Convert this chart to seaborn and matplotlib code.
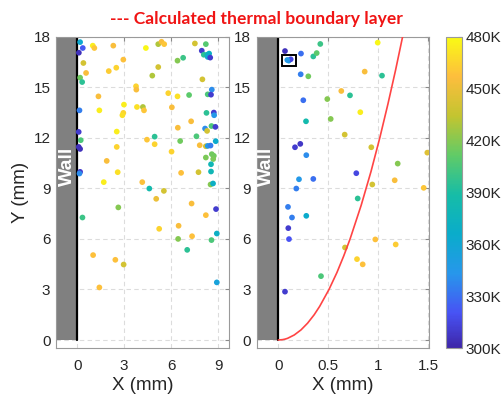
import numpy as np
import pandas as pd
import matplotlib
matplotlib.use("Agg")
import matplotlib.pyplot as plt
from matplotlib.colors import LinearSegmentedColormap, Normalize
from matplotlib.patches import Rectangle
import seaborn as sns

# ---- data ----
# left panel (wide view), X in mm, Y in mm, temperature in K
left_x = [0.19, 0.36, 0.11, 0.40, 0.57, 0.19, 0.32, 0.15, 0.10, 0.23, 0.10, 0.19, 0.19, 0.15,
          1.00, 1.10, 2.31, 2.95, 2.50, 2.02, 1.36, 1.42, 2.99, 2.95, 2.89, 2.53, 2.53, 1.89,
          2.59, 1.70, 4.39, 5.18, 5.39, 5.56, 5.18, 4.80, 3.76, 3.78, 3.82, 4.20, 4.27, 4.46,
          4.95, 4.95, 4.16, 4.61, 5.54, 6.03, 5.82, 6.05, 6.41, 6.41, 6.77, 7.15, 6.43, 6.58,
          7.28, 6.64, 7.52, 8.22, 7.96, 8.09, 8.30, 8.43, 8.34, 8.50, 8.00, 8.60, 8.34, 8.55,
          8.26, 8.73, 8.75, 8.17, 8.30, 8.58, 8.83, 7.62, 7.83, 8.22, 8.34, 8.52, 8.85, 8.60,
          8.73, 8.22, 8.69, 8.55, 8.55, 7.75, 8.52, 8.68, 0.34, 2.63, 5.05, 7.31, 8.87, 8.22,
          5.24, 6.48, 7.34, 6.45, 8.92, 8.58, 7.03, 1.02, 2.44, 2.97, 1.42, 8.92]
left_y = [17.68, 17.33, 17.05, 16.44, 15.85, 15.57, 15.31, 13.63, 12.35, 11.86, 11.46, 11.34, 9.98, 9.88,
          17.47, 17.33, 17.47, 16.64, 16.16, 15.96, 14.46, 13.63, 13.97, 13.48, 13.34, 12.37, 11.46, 10.63,
          9.96, 9.37, 17.33, 17.56, 17.70, 17.56, 16.20, 15.69, 15.06, 14.86, 13.83, 13.83, 13.63, 11.89,
          12.07, 11.62, 9.37, 8.99, 8.85, 11.18, 14.65, 13.81, 14.46, 16.58, 16.75, 14.54, 12.60, 11.81,
          12.98, 9.92, 17.60, 17.56, 17.17, 16.93, 16.93, 17.00, 16.80, 16.76, 15.47, 14.86, 14.58, 14.56,
          13.48, 13.50, 13.34, 12.55, 12.41, 12.70, 12.65, 12.09, 11.56, 11.50, 11.52, 11.54, 11.80, 11.03,
          10.93, 10.83, 10.74, 10.43, 10.00, 9.96, 9.23, 9.29, 7.27, 7.87, 8.38, 8.10, 7.77, 7.41,
          6.60, 6.78, 6.16, 6.00, 6.32, 5.93, 5.35, 5.04, 4.76, 4.48, 3.12, 3.42]
left_T = [362, 322, 305, 440, 455, 415, 395, 335, 310, 405, 305, 305, 310, 340,
          475, 460, 455, 458, 465, 462, 455, 475, 475, 465, 470, 475, 465, 455,
          470, 475, 478, 430, 455, 460, 440, 430, 465, 455, 470, 430, 460, 460,
          395, 465, 458, 385, 440, 465, 465, 455, 470, 420, 400, 410, 455, 415,
          455, 458, 440, 408, 310, 395, 385, 370, 360, 310, 440, 340, 405, 310,
          395, 310, 345, 340, 440, 405, 310, 405, 455, 440, 345, 335, 365, 415,
          415, 418, 418, 380, 380, 440, 420, 370, 400, 420, 450, 455, 310, 458,
          465, 455, 458, 420, 370, 405, 395, 458, 458, 440, 458, 355]

# right panel (near-wall zoom)
right_x = [0.067, 0.227, 0.350, 0.384, 0.420, 0.104, 0.124, 0.090, 0.224, 0.300, 0.250, 0.490,
           0.630, 0.717, 0.277, 0.524, 0.820, 0.664, 0.167, 0.220, 0.280, 0.930, 1.490, 1.194,
           0.780, 0.994, 0.864, 1.037, 0.207, 0.350, 0.180, 0.940, 1.164, 1.454, 0.794, 0.097,
           0.137, 0.280, 0.100, 0.107, 0.667, 0.970, 1.174, 0.787, 0.844, 0.427, 0.067]
right_y = [17.15, 17.00, 16.83, 17.03, 17.57, 16.58, 16.66, 16.62, 15.77, 15.65, 14.23, 14.30,
           14.78, 14.52, 12.98, 13.12, 13.52, 12.19, 11.44, 11.64, 10.97, 11.44, 11.12, 10.47,
           9.90, 17.65, 15.93, 15.69, 9.54, 9.56, 8.99, 9.23, 9.48, 9.03, 8.40, 7.90,
           7.27, 7.37, 6.64, 5.99, 5.49, 5.97, 5.67, 4.80, 4.49, 3.79, 2.87]
right_T = [305, 330, 395, 410, 400, 350, 315, 345, 335, 415, 330, 420,
           455, 395, 385, 420, 475, 440, 310, 308, 340, 440, 445, 420,
           315, 478, 455, 395, 345, 330, 335, 440, 455, 460, 395, 335,
           335, 365, 310, 320, 440, 458, 462, 465, 458, 405, 310]

# calculated thermal boundary layer
bl_y = [0, 0.02, 0.05, 0.1, 0.3, 0.6, 1, 1.5, 2, 3, 4, 5, 6, 8, 10, 12, 14, 16, 18]
bl_x = [0, 0.041, 0.066, 0.093, 0.160, 0.227, 0.293, 0.359, 0.414, 0.507, 0.586, 0.655,
        0.718, 0.829, 0.927, 1.015, 1.096, 1.172, 1.243]

y_ticks = [0, 3, 6, 9, 12, 15, 18]
left_xticks = [0, 3, 6, 9]
right_xticks = [0, 0.5, 1, 1.5]
right_xticklabels = ["0", "0.5", "1", "1.5"]
cbar_ticks = [300, 330, 360, 390, 420, 450, 480]
cbar_labels = ["300K", "330K", "360K", "390K", "420K", "450K", "480K"]
wall_top = 18

# parula-like colormap
parula = LinearSegmentedColormap.from_list("parula", [
    (0.000, (0.2422, 0.1504, 0.6603)),
    (0.111, (0.2810, 0.3228, 0.9579)),
    (0.238, (0.1540, 0.5902, 0.9218)),
    (0.365, (0.0383, 0.6742, 0.7950)),
    (0.492, (0.0855, 0.7392, 0.6565)),
    (0.619, (0.3765, 0.7950, 0.4050)),
    (0.746, (0.7635, 0.7707, 0.1877)),
    (0.873, (0.9932, 0.7433, 0.2393)),
    (1.000, (0.9769, 0.9839, 0.0805)),
])
norm = Normalize(300, 480)

sns.set_style("white")
plt.rcParams["font.family"] = ["Liberation Sans", "DejaVu Sans"]

fig = plt.figure(figsize=(5.04, 3.97), dpi=100)
ax1 = fig.add_axes([0.1111, 0.1234, 0.3433, 0.7841])
ax2 = fig.add_axes([0.5093, 0.1234, 0.3425, 0.7841])
cax = fig.add_axes([0.885, 0.1234, 0.0311, 0.7841])

df_l = pd.DataFrame({"x": left_x, "y": left_y, "T": left_T})
df_r = pd.DataFrame({"x": right_x, "y": right_y, "T": right_T})

panels = [(ax1, df_l, (-1.35, 9.7), left_xticks, None, -0.64),
          (ax2, df_r, (-0.216, 1.51), right_xticks, right_xticklabels, -0.116)]

for ax, df, xlim, xt, xtl, wall_x in panels:
    ax.set_axisbelow(True)
    ax.grid(True, linestyle=(0, (4, 3)), color="#dcdcdc", lw=0.8)
    # wall
    ax.fill_between([xlim[0], 0], 0, wall_top, color="#808080", lw=0, zorder=1)
    ax.plot([0, 0], [0, wall_top], color="black", lw=1.6, zorder=2)
    ax.text(wall_x, 10.3, "Wall", color="white", fontsize=14, fontweight="bold",
            rotation=90, ha="center", va="center", zorder=3)
    sns.scatterplot(data=df, x="x", y="y", hue="T", palette=parula, hue_norm=norm,
                    s=17, linewidth=0, legend=False, ax=ax, zorder=4)
    ax.set_xlim(*xlim)
    ax.set_ylim(-0.475, 18)
    ax.set_xticks(xt)
    if xtl is not None:
        ax.set_xticklabels(xtl)
    ax.set_yticks(y_ticks)
    ax.tick_params(direction="in", length=3, top=True, right=True, color="#8a8a8a",
                   labelsize=11, labelcolor="#262626")
    ax.tick_params(axis="x", pad=8)
    ax.tick_params(axis="y", pad=4)
    for sp in ax.spines.values():
        sp.set_color("#9a9a9a")
        sp.set_linewidth(0.8)
    ax.set_xlabel("X (mm)", fontsize=13.5, color="#262626", labelpad=2.5)
    ax.set_ylabel("")

ax1.set_ylabel("Y (mm)", fontsize=13.5, color="#262626", labelpad=3)

# boundary layer curve
sns.lineplot(x=bl_x, y=bl_y, sort=False, estimator=None, color="#ff4444", lw=1.2,
             ax=ax2, zorder=5)
ax2.add_patch(Rectangle((0.034, 16.26), 0.143, 0.67, fill=False, edgecolor="black",
                        lw=1.4, zorder=6))

sm = plt.cm.ScalarMappable(cmap=parula, norm=norm)
cb = fig.colorbar(sm, cax=cax, ticks=cbar_ticks)
cb.ax.set_yticklabels(cbar_labels)
cb.ax.tick_params(direction="in", length=3, labelsize=11, labelcolor="#262626",
                  color="#8a8a8a", pad=3)
cb.outline.set_edgecolor("#9a9a9a")
cb.outline.set_linewidth(0.8)

fig.text(0.508, 0.953, "--- Calculated thermal boundary layer", color="#f01414",
         fontsize=12.6, fontweight="bold", ha="center", va="center",
         family=["Lato", "DejaVu Sans"])

fig.savefig("out.png", dpi=100)
